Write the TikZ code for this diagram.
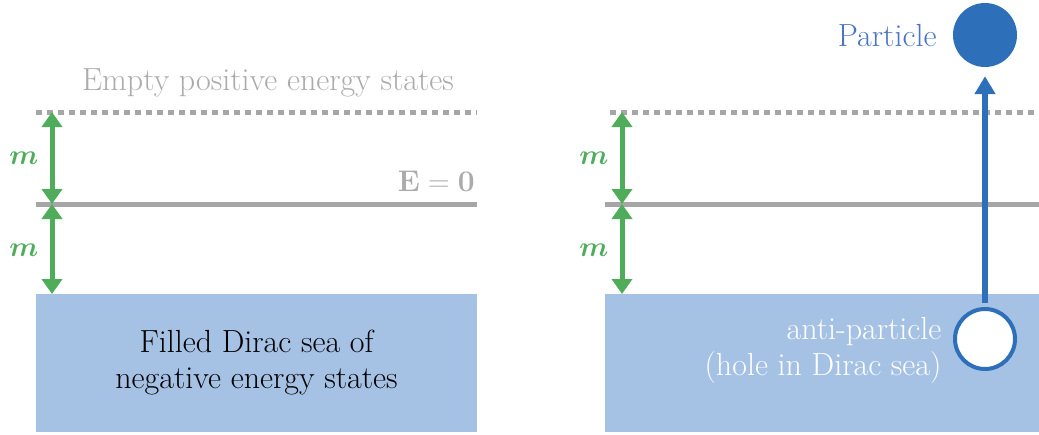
\documentclass[tikz,border=0pt]{standalone}
\usepackage{amsmath,bm}
\usetikzlibrary{arrows.meta}
\definecolor{seablue}{HTML}{A5C2E4}
\definecolor{lvlgray}{HTML}{A6A6A6}
\definecolor{txtgray}{HTML}{ABABAB}
\definecolor{mgreen}{HTML}{4FAC5B}
\definecolor{pblue}{HTML}{2E6FBA}
\definecolor{ptxt}{HTML}{4A74C4}
\tikzset{
  sea/.style={fill=seablue, draw=none},
  solidlevel/.style={draw=lvlgray, line width=5pt},
  dotlevel/.style={draw=lvlgray, line width=5pt, dash pattern=on 6pt off 5pt},
  gap/.style={draw=mgreen, line width=5pt, {Triangle[width=20pt,length=15pt]}-{Triangle[width=20pt,length=15pt]}},
  mlabel/.style={text=mgreen, font=\fontsize{24.88}{30}\selectfont, scale=1.13},
  bigtxt/.style={font=\fontsize{32}{36}\selectfont},
  jump/.style={draw=pblue, line width=6pt, -{Triangle[width=20pt,length=18pt]}},
}
\begin{document}
\begin{tikzpicture}[x=1pt,y=-1pt]
\useasboundingbox (0,0) rectangle (1039,434);
% ---------- left panel ----------
\fill[sea] (36,294) rectangle (477,432);
\node[bigtxt, align=center] (fill) at (256.5,363) {Filled Dirac sea of\\negative energy states};
\draw[dotlevel] (36,112) -- (477,112);
\draw[solidlevel] (36,204) -- (477,204);
\node[bigtxt, text=txtgray] (empty) at (268,83) {Empty positive energy states};
\node[text=txtgray, anchor=south east, inner sep=0pt, font=\fontsize{24.88}{30}\selectfont, scale=1.2] (ezero) at (475,192) {$\mathbf{E=0}$};
\coordinate (la) at (52,112);
\coordinate (lb) at (52,204);
\coordinate (lc) at (52,294);
\draw[gap] (la) -- (lb);
\draw[gap] (lb) -- (lc);
\node[mlabel] (lm1) at (24,158) {$\bm{m}$};
\node[mlabel] (lm2) at (24,250) {$\bm{m}$};
% ---------- right panel ----------
\fill[sea] (605,294) rectangle (1039,432);
\draw[dotlevel] (610,112) -- (1039,112);
\draw[solidlevel] (605,204) -- (1039,204);
\coordinate (ra) at (622,112);
\coordinate (rb) at (622,204);
\coordinate (rc) at (622,294);
\draw[gap] (ra) -- (rb);
\draw[gap] (rb) -- (rc);
\node[mlabel] (rm1) at (594,158) {$\bm{m}$};
\node[mlabel] (rm2) at (594,250) {$\bm{m}$};
\node[circle, fill=pblue, minimum size=64pt, inner sep=0pt] (particle) at (985,35) {};
\node[bigtxt, text=ptxt, anchor=east] (ptext) at (940,36) {Particle};
\node[circle, fill=white, draw=pblue, line width=4pt, minimum size=60pt, inner sep=0pt] (hole) at (985,339) {};
\node[bigtxt, text=white, align=right, anchor=east] (atext) at (945,350) {anti-particle\\(hole in Dirac sea)};
\coordinate (hstart) at (985,303);
\draw[jump] (hstart) -- ([yshift=-9pt]particle.south);
\end{tikzpicture}
\end{document}
